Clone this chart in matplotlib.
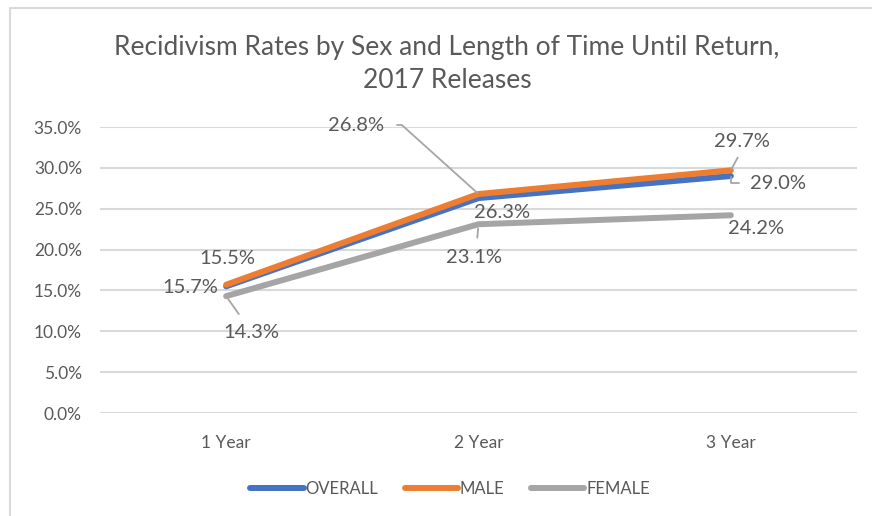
import matplotlib
matplotlib.use('Agg')
import matplotlib.pyplot as plt
from matplotlib.patches import Rectangle
from matplotlib.ticker import FuncFormatter

plt.rcParams['font.family'] = ['Lato', 'DejaVu Sans']

years = ['1 Year', '2 Year', '3 Year']
overall = [15.5, 26.3, 29.0]
male = [15.7, 26.8, 29.7]
female = [14.3, 23.1, 24.2]

TXT = '#595959'
GRID = '#D9D9D9'
LEAD = '#A5A5A5'

fig = plt.figure(figsize=(8.72, 5.16), dpi=100)
fig.patch.set_facecolor('white')

# chart area border (only top and left edges show)
fig.patches.append(Rectangle((10 / 872, -0.1), 1.2, 1 - 8 / 516 + 0.1,
                             transform=fig.transFigure, fill=False,
                             edgecolor=GRID, linewidth=1.5))

ax = fig.add_axes([100 / 872, 1 - 413 / 516, 757 / 872, 286 / 516])
x = list(range(len(years)))

ax.plot(x, overall, color='#4472C4', lw=4.3, solid_capstyle='round', label='OVERALL', zorder=3)
ax.plot(x, male, color='#ED7D31', lw=4.3, solid_capstyle='round', label='MALE', zorder=4)
ax.plot(x, female, color='#A5A5A5', lw=4.3, solid_capstyle='round', label='FEMALE', zorder=3)

ax.set_xlim(-0.5, 2.5)
ax.set_ylim(0, 35)
ax.set_yticks(range(0, 36, 5))
ax.yaxis.set_major_formatter(FuncFormatter(lambda v, p: f'{v:.1f}%'))
ax.set_xticks(x)
ax.set_xticklabels(years)
ax.tick_params(axis='both', length=0, colors=TXT, labelsize=12.5)
ax.tick_params(axis='x', pad=16)
ax.tick_params(axis='y', pad=13)
ax.grid(axis='y', color=GRID, lw=1.5)
ax.set_axisbelow(True)
for s in ax.spines.values():
    s.set_visible(False)

# data labels with optional leader lines, offsets in pixels from the point
def label(i, v, dx, dy, lead=None):
    kw = dict(textcoords='offset pixels', ha='center', va='center',
              fontsize=14.5, color=TXT, zorder=5)
    if lead is not None:
        relpos, conn, sa, sb = lead
        kw['arrowprops'] = dict(arrowstyle='-', color=LEAD, lw=1.3,
                                relpos=relpos, connectionstyle=conn,
                                shrinkA=sa, shrinkB=sb)
    ax.annotate(f'{v:.1f}%', xy=(i, v), xytext=(dx, dy), **kw)

label(0, overall[0], 1, 28)
label(0, male[0], -36, -3)
label(0, female[0], 25, -36, ((0.4, 1), 'arc3', 6, 2))
label(1, male[1], -122, 69, ((1, 0.5), 'angle,angleA=0,angleB=138,rad=0', 7, 1))
label(1, overall[1], 24, -14)
label(1, female[1], -5, -33, ((0.55, 1), 'arc3', 6, 3))
label(2, male[2], 11, 29, ((0.5, 0), 'arc3', 4, 1))
label(2, overall[2], 47, -7, ((0, 0.5), 'angle,angleA=0,angleB=90,rad=0', 6, 1))
label(2, female[2], 25, -13)

fig.text(447 / 872, 1 - 64 / 516,
         'Recidivism Rates by Sex and Length of Time Until Return,\n2017 Releases',
         ha='center', va='center', fontsize=19, color=TXT, linespacing=1.45)

leg = ax.legend(loc='center', bbox_to_anchor=(450 / 872, 1 - 489 / 516),
                bbox_transform=fig.transFigure, ncol=3, frameon=False,
                fontsize=12, handlelength=3.2, handletextpad=0.1,
                columnspacing=1.6, labelcolor=TXT)

fig.savefig('out.png', dpi=100, facecolor='white')
